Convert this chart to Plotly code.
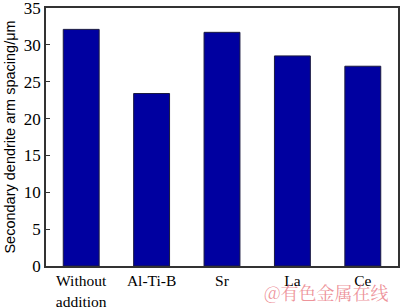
import plotly.graph_objects as go

categories = ["Without<br>addition", "Al-Ti-B", "Sr", "La", "Ce"]
values = [32.1, 23.4, 31.7, 28.5, 27.1]
y_ticks = [0, 5, 10, 15, 20, 25, 30, 35]

fig = go.Figure()
fig.add_trace(go.Bar(
    x=categories, y=values,
    marker=dict(color="#0000a0", line=dict(color="#1a1a40", width=1)),
))

font = "Liberation Serif, Times New Roman, serif"
fig.update_layout(
    width=400, height=307,
    margin=dict(l=46, r=2, t=8, b=41),
    paper_bgcolor="white", plot_bgcolor="white",
    bargap=0.49,
    showlegend=False,
    font=dict(family=font, color="black", size=16),
)
fig.update_xaxes(
    showline=True, linecolor="#333", linewidth=1.5, mirror=True,
    ticks="", showgrid=False, automargin=False,
    tickfont=dict(size=15.5, family=font),
)
fig.update_yaxes(
    range=[0, 35], tickvals=y_ticks,
    showline=True, linecolor="#333", linewidth=1.5, mirror=True,
    ticks="inside", ticklen=4, tickcolor="#333",
    showgrid=False, zeroline=False, automargin=False,
    ticklabeloverflow="allow",
    tickfont=dict(size=17, family=font),
    title=dict(text="Secondary dendrite arm spacing/μm",
               font=dict(size=14.5, family="Liberation Sans, Arial, sans-serif"), standoff=5),
)
fig.add_annotation(
    text="@有色金属在线", xref="paper", yref="paper",
    x=0.977, y=-0.1, xanchor="right", yanchor="middle", showarrow=False,
    font=dict(size=18, color="rgba(230,100,110,0.7)", family="Noto Serif CJK SC, Noto Sans CJK SC"),
)
fig.write_html("out.html")
